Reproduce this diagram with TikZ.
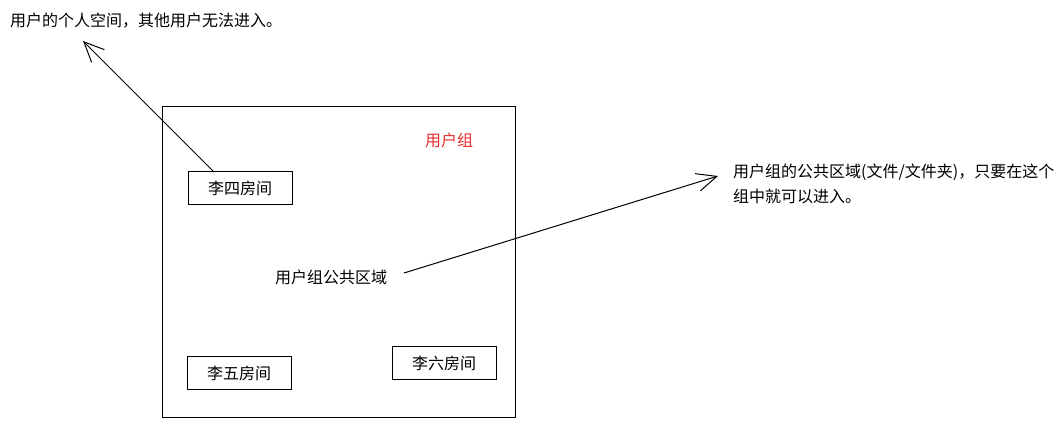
\documentclass[tikz,border=0pt]{standalone}
\usepackage{fontspec}
\setmainfont{Noto Sans CJK SC}
\usetikzlibrary{arrows.meta}
\definecolor{grpred}{RGB}{232,45,45}
\tikzset{
  room/.style={draw, line width=1pt, minimum width=104pt, minimum height=33pt, inner sep=0pt},
  note/.style={anchor=west, align=left, inner sep=0pt}
}
\begin{document}
\begin{tikzpicture}[x=1pt, y=-1pt, >={Straight Barb[length=20pt,width=18pt]}, font=\fontsize{16}{25}\selectfont]
  \useasboundingbox (0,0) rectangle (1062,427);
  \node[draw, line width=1pt, minimum width=353pt, minimum height=310pt, inner sep=0pt] (group) at (338.5,262) {};
  \node[text=grpred] (grouplabel) at (449,140) {用户组};
  \node[room] (lisi) at (240,188.5) {李四房间};
  \node[room] (liwu) at (239,373) {李五房间};
  \node[room] (liliu) at (444,363) {李六房间};
  \node (public) at (331,277) {用户组公共区域};
  \node[note] (personal) at (10,21) {用户的个人空间，其他用户无法进入。};
  \node[note] (shared) at (733,183.5) {用户组的公共区域(文件/文件夹)，只要在这个\\组中就可以进入。};
  % arrow ends
  \coordinate (lisitop) at (214,172);
  \coordinate (tip1) at (83,41);
  \coordinate (pubend) at (404,273);
  \coordinate (tip2) at (718,176);
  \draw[->, line width=1pt] (lisitop) -- (tip1);
  \draw[->, line width=1pt] (pubend) -- (tip2);
\end{tikzpicture}
\end{document}
